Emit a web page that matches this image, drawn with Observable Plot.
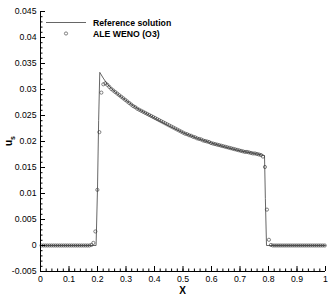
<!DOCTYPE html>
<html><head><meta charset="utf-8">
<script src="https://cdn.jsdelivr.net/npm/d3@7"></script>
<script src="https://cdn.jsdelivr.net/npm/@observablehq/plot@0.6"></script>
<style>body{margin:0;background:#fff} svg{display:block}</style>
</head><body><div id="chart"></div>
<script>
// Reference solution (line)
const refX = [0, 0.195, 0.2, 0.204, 0.208, 0.22, 0.235, 0.25, 0.275, 0.3, 0.325, 0.35, 0.4, 0.45, 0.5, 0.55, 0.6, 0.65, 0.7, 0.75, 0.786, 0.789, 0.793, 1];
const refY = [0, 0, 0.011, 0.024, 0.0333, 0.0322, 0.0310, 0.0301, 0.0289, 0.0279, 0.0269, 0.0260, 0.0245, 0.0230, 0.0217, 0.0206, 0.0197, 0.0189, 0.0182, 0.0177, 0.0173, 0.009, 0, 0];

// ALE WENO (O3) (circles)
const numX = [0.0035,0.0105,0.0175,0.0245,0.0315,0.0385,0.0455,0.0525,0.0595,0.0665,0.0735,0.0805,0.0875,0.0945,0.1015,0.1085,0.1155,0.1225,0.1295,0.1365,0.1435,0.1505,0.1575,0.1645,0.1715,
0.1785,0.1855,0.1925,0.1995,0.2065,0.2135,0.2205,0.2275,0.2345,0.2415,0.2485,0.2555,0.2625,0.2695,0.2765,0.2835,0.2905,0.2975,0.3045,0.3115,0.3185,0.3255,0.3325,0.3395,0.3465,
0.3535,0.3605,0.3675,0.3745,0.3815,0.3885,0.3955,0.4025,0.4095,0.4165,0.4235,0.4305,0.4375,0.4445,0.4515,0.4585,0.4655,0.4725,0.4795,0.4865,0.4935,0.5005,0.5075,0.5145,0.5215,
0.5285,0.5355,0.5425,0.5495,0.5565,0.5635,0.5705,0.5775,0.5845,0.5915,0.5985,0.6055,0.6125,0.6195,0.6265,0.6335,0.6405,0.6475,0.6545,0.6615,0.6685,0.6755,0.6825,0.6895,0.6965,
0.7035,0.7105,0.7175,0.7245,0.7315,0.7385,0.7455,0.7525,0.7595,0.7665,0.7735,0.7805,0.7875,0.7945,0.8015,0.8085,0.8155,0.8225,0.8295,0.8365,0.8435,0.8505,0.8575,0.8645,0.8715,
0.8785,0.8855,0.8925,0.8995,0.9065,0.9135,0.9205,0.9275,0.9345,0.9415,0.9485,0.9555,0.9625,0.9695,0.9765,0.9835,0.9905,0.9975];
const numY = [0,0,0,0,0,0,0,0,0,0,0,0,0,0,0,0,0,0,0,0,0,0,0,0,0,
0.0001,0.0005,0.0027,0.0107,0.0218,0.0294,0.0310,0.0312,0.0309,0.0305,0.0301,0.0298,0.0295,0.0292,0.0289,0.0286,0.0283,0.0280,0.0277,0.0274,0.0271,0.0268,0.0266,0.0263,0.0261,
0.0259,0.0257,0.0255,0.0253,0.0251,0.0249,0.0247,0.0245,0.0243,0.0241,0.0239,0.0237,0.0235,0.0233,0.0231,0.0229,0.0227,0.0225,0.0223,0.0221,0.0219,0.0217,0.0215,0.0214,0.0212,
0.0211,0.0209,0.0208,0.0206,0.0205,0.0204,0.0202,0.0201,0.0200,0.0199,0.0197,0.0196,0.0195,0.0194,0.0193,0.0192,0.0191,0.0190,0.0189,0.0188,0.0187,0.0186,0.0185,0.0184,0.0183,
0.0182,0.0181,0.0180,0.0180,0.0179,0.0178,0.0177,0.0177,0.0176,0.0175,0.0174,0.0171,0.0151,0.0069,0.0011,0.0001,0,0,0,0,0,0,0,0,0,
0,0,0,0,0,0,0,0,0,0,0,0,0,0,0,0,0,0];

// Axis ticks and labels
const xTicks = [0, 0.1, 0.2, 0.3, 0.4, 0.5, 0.6, 0.7, 0.8, 0.9, 1];
const xTickLabels = ["0", "0.1", "0.2", "0.3", "0.4", "0.5", "0.6", "0.7", "0.8", "0.9", "1"];
const yTicks = [-0.005, 0, 0.005, 0.01, 0.015, 0.02, 0.025, 0.03, 0.035, 0.04, 0.045];
const yTickLabels = ["-0.005", "0", "0.005", "0.01", "0.015", "0.02", "0.025", "0.03", "0.035", "0.04", "0.045"];
const xMinor = d3.range(0, 1.0001, 0.02).map(v => +v.toFixed(4));
const yMinor = d3.range(-0.005, 0.04501, 0.001).map(v => +v.toFixed(5));

const seriesNames = ["Reference solution", "ALE WENO (O3)"];
const xTitle = "X";

const refData = refX.map((x, i) => ({x, y: refY[i]}));
const numData = numX.map((x, i) => ({x, y: numY[i]}));

const FONT = "'Liberation Sans', Arial, Helvetica, sans-serif";

const chart = Plot.plot({
  width: 332, height: 296,
  marginLeft: 40, marginRight: 7, marginTop: 11, marginBottom: 25,
  x: {domain: [0, 1]},
  y: {domain: [-0.005, 0.045]},
  style: {fontFamily: FONT, fontSize: "8.7px", background: "#fff", color: "#000"},
  marks: [
    Plot.line(refData, {x: "x", y: "y", stroke: "#555", strokeWidth: 0.9}),
    Plot.dot(numData, {x: "x", y: "y", r: 1.6, stroke: "#333", strokeWidth: 0.6, fill: "none"}),
    Plot.ruleX([0], {stroke: "#000"}),
    Plot.ruleY([-0.005], {stroke: "#000"}),
    Plot.axisY(yMinor, {anchor: "left", tickSize: -2.5, text: null, label: null}),
    Plot.axisY(yTicks, {anchor: "left", tickSize: -5, text: null, label: null}),
    Plot.axisY(yTicks, {anchor: "left", tickSize: 0, tickPadding: 4, label: null,
      tickFormat: d => yTickLabels[yTicks.indexOf(d)]}),
    Plot.axisX(xMinor, {anchor: "bottom", tickSize: -2.5, text: null, label: null}),
    Plot.axisX(xTicks, {anchor: "bottom", tickSize: -5, text: null, label: null}),
    Plot.axisX(xTicks, {anchor: "bottom", tickSize: 0, tickPadding: 4, label: null,
      tickFormat: d => xTickLabels[xTicks.indexOf(d)]})
  ]
});
document.getElementById("chart").appendChild(chart);

// Titles and legend
const svg = d3.select(chart);
svg.append("text").attr("x", 182.5).attr("y", 294).attr("text-anchor", "middle")
  .attr("font-family", FONT).attr("font-size", 10).attr("font-weight", "bold").text(xTitle);
const yt = svg.append("text").attr("transform", "translate(12,141) rotate(-90)").attr("text-anchor", "middle")
  .attr("font-family", FONT).attr("font-size", 10).attr("font-weight", "bold");
yt.append("tspan").text("u");
yt.append("tspan").attr("font-size", 7).attr("dy", 2.5).text("s");

const lg = svg.append("g").attr("font-family", FONT).attr("font-size", 8.7).attr("font-weight", "bold").attr("text-anchor", "start");
lg.append("line").attr("x1", 46).attr("x2", 86).attr("y1", 22.5).attr("y2", 22.5).attr("stroke", "#555").attr("stroke-width", 0.9);
lg.append("circle").attr("cx", 66).attr("cy", 33.5).attr("r", 1.6).attr("fill", "none").attr("stroke", "#333").attr("stroke-width", 0.6);
lg.append("text").attr("x", 93).attr("y", 25.5).attr("text-anchor", "start").text(seriesNames[0]);
lg.append("text").attr("x", 93).attr("y", 36.5).attr("text-anchor", "start").text(seriesNames[1]);
</script></body></html>
